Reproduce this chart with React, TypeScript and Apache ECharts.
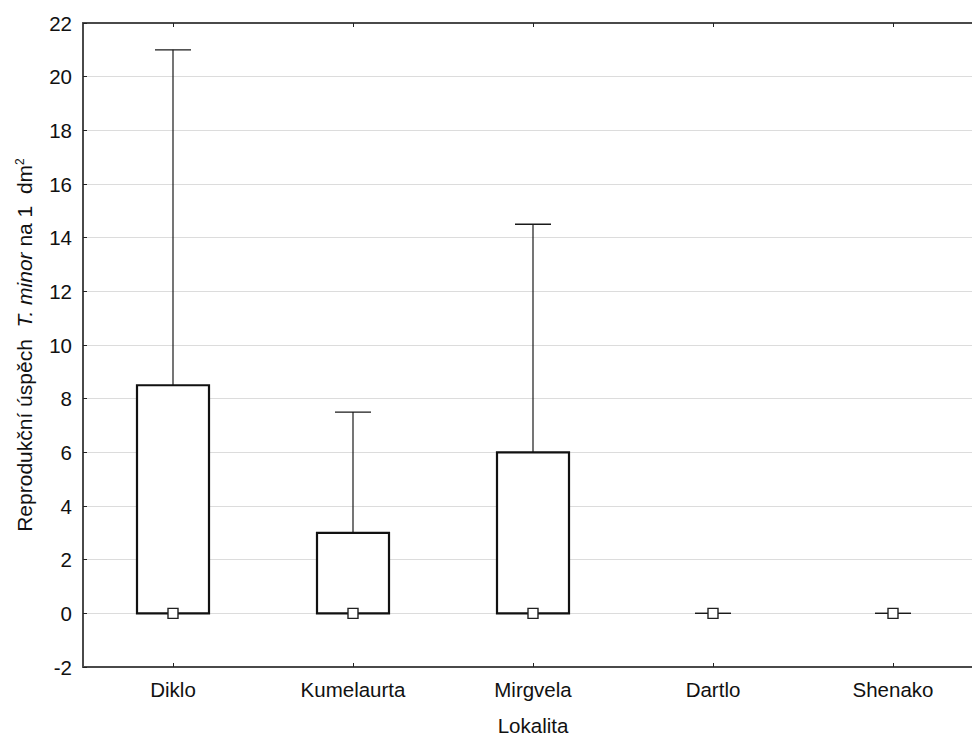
import React, { useEffect, useRef } from "react";
import * as echarts from "echarts";

const categories = ["Diklo", "Kumelaurta", "Mirgvela", "Dartlo", "Shenako"];
const minValues = [0, 0, 0, 0, 0];
const q1Values = [0, 0, 0, 0, 0];
const medianValues = [0, 0, 0, 0, 0];
const q3Values = [8.5, 3, 6, 0, 0];
const maxValues = [21, 7.5, 14.5, 0, 0];
const yMin = -2;
const yMax = 22;
const yInterval = 2;

const FONT = "'Liberation Sans', Arial, sans-serif";
const FS = 20.5;
const TFS = 21;

export default function App() {
  const ref = useRef<HTMLDivElement>(null);
  useEffect(() => {
    if (!ref.current) return;
    const chart = echarts.init(ref.current, null, { renderer: "svg" });
    const data = categories.map((_, i) => [
      i,
      minValues[i],
      q1Values[i],
      medianValues[i],
      q3Values[i],
      maxValues[i],
    ]);
    const axisLineStyle = { color: "#4a4a4a", width: 2 };
    chart.setOption({
      animation: false,
      backgroundColor: "#ffffff",
      textStyle: { fontFamily: FONT },
      grid: { left: 83, top: 23, width: 900, height: 644, containLabel: false, outerBoundsMode: "none" },
      xAxis: [
        {
          type: "category",
          data: categories,
          position: "bottom",
          name: "Lokalita",
          nameLocation: "middle",
          nameGap: 51,
          nameTextStyle: { fontSize: FS, lineHeight: 14, color: "#111", fontFamily: FONT, verticalAlign: "top" },
          axisLine: { show: true, onZero: false, lineStyle: axisLineStyle },
          axisTick: { show: true, inside: true, alignWithLabel: true, length: 4, lineStyle: { color: "#222", width: 1 } },
          axisLabel: { fontSize: FS, color: "#111", margin: 12, fontFamily: FONT },
          splitLine: { show: false },
        },
        {
          type: "category",
          data: categories,
          position: "top",
          axisLine: { show: true, onZero: false, lineStyle: axisLineStyle },
          axisTick: { show: true, inside: true, alignWithLabel: true, length: 4, lineStyle: { color: "#222", width: 1 } },
          axisLabel: { show: false },
          splitLine: { show: false },
        },
      ],
      yAxis: [
        {
          type: "value",
          min: yMin,
          max: yMax,
          interval: yInterval,
          name: "Reprodukční úspěch  {i|T. minor} na 1  dm{sup|2}",
          nameLocation: "middle",
          nameGap: 48,
          nameRotate: 90,
          nameTextStyle: {
            fontSize: TFS,
            color: "#111",
            fontFamily: FONT,
            rich: {
              i: { fontSize: TFS, fontStyle: "italic", color: "#111", fontFamily: FONT },
              sup: { fontSize: 12, verticalAlign: "top", color: "#111", fontFamily: FONT },
            },
          },
          axisLine: { show: true, onZero: false, lineStyle: axisLineStyle },
          axisTick: { show: true, inside: true, length: 4, lineStyle: { color: "#222", width: 1 } },
          axisLabel: { fontSize: FS, color: "#111", margin: 11, fontFamily: FONT },
          splitLine: { show: true, lineStyle: { color: "#dcdcdc", width: 1 } },
        },
      ],
      series: [
        {
          type: "custom",
          xAxisIndex: 0,
          yAxisIndex: 0,
          encode: { x: 0, y: [1, 2, 3, 4, 5] },
          data,
          renderItem: (params: any, api: any) => {
            const i = api.value(0);
            const band = api.size([1, 0])[0];
            const x = api.coord([i, api.value(1)])[0];
            const yMinP = api.coord([i, api.value(1)])[1];
            const yQ1 = api.coord([i, api.value(2)])[1];
            const yMed = api.coord([i, api.value(3)])[1];
            const yQ3 = api.coord([i, api.value(4)])[1];
            const yMaxP = api.coord([i, api.value(5)])[1];
            const boxW = band * 0.4;
            const capW = band * 0.2;
            const thin = { stroke: "#1a1a1a", lineWidth: 1.2, fill: null };
            const children: any[] = [];
            children.push({ type: "line", shape: { x1: x, y1: yQ3, x2: x, y2: yMaxP }, style: thin });
            children.push({ type: "line", shape: { x1: x, y1: yQ1, x2: x, y2: yMinP }, style: thin });
            children.push({ type: "line", shape: { x1: x - capW / 2, y1: yMaxP, x2: x + capW / 2, y2: yMaxP }, style: { ...thin, lineWidth: 1.4 } });
            children.push({ type: "line", shape: { x1: x - capW / 2, y1: yMinP, x2: x + capW / 2, y2: yMinP }, style: { ...thin, lineWidth: 1.4 } });
            if (api.value(4) > api.value(2)) {
              children.push({
                type: "rect",
                shape: { x: x - boxW / 2, y: yQ3, width: boxW, height: yQ1 - yQ3 },
                style: { fill: "#ffffff", stroke: "#111", lineWidth: 2.2 },
              });
            }
            children.push({
              type: "rect",
              shape: { x: x - 5, y: yMed - 5, width: 10, height: 10 },
              style: { fill: "#ffffff", stroke: "#222", lineWidth: 1.4 },
            });
            return { type: "group", children };
          },
        },
      ],
    });
    return () => chart.dispose();
  }, []);
  return (
    <div
      style={{ position: "fixed", left: 0, top: 0, width: 972, height: 737, overflow: "hidden", background: "#fff" }}
    >
      <style>{"html,body{margin:0;overflow:hidden;} svg{overflow:hidden;}"}</style>
      <div ref={ref} style={{ width: 972, height: 737, overflow: "hidden" }} />
    </div>
  );
}
